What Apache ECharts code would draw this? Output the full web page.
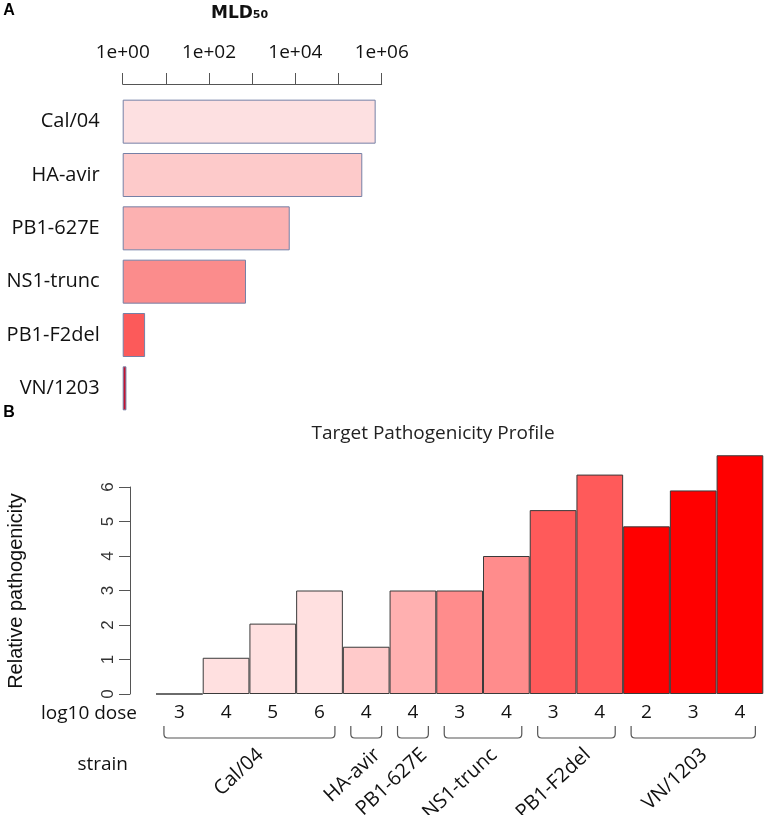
<!DOCTYPE html>
<html>
<head>
<meta charset="utf-8">
<script src="https://cdn.jsdelivr.net/npm/echarts@6/dist/echarts.min.js"></script>
<style>
html,body{margin:0;padding:0;background:#fff;}
#chart{width:767px;height:815px;}
</style>
</head>
<body>
<div id="chart"></div>
<script>
// ---- Panel A data ----
const strains = ['Cal/04', 'HA-avir', 'PB1-627E', 'NS1-trunc', 'PB1-F2del', 'VN/1203'];
const mld50 = [724000, 355000, 7400, 718, 3.3, 1.22];

// ---- Panel B data ----
const barStrains = ['Cal/04', 'Cal/04', 'Cal/04', 'Cal/04', 'HA-avir', 'PB1-627E',
  'NS1-trunc', 'NS1-trunc', 'PB1-F2del', 'PB1-F2del', 'VN/1203', 'VN/1203', 'VN/1203'];
const doses = ['3', '4', '5', '6', '4', '4', '3', '4', '3', '4', '2', '3', '4'];
const pathogenicity = [0, 1.05, 2.04, 3.0, 1.37, 3.0, 3.0, 4.0, 5.33, 6.36, 4.86, 5.9, 6.92];

// ---- styles ----
const paletteTop = ['#fde0e1', '#fdcaca', '#fcb1b1', '#fb8c8c', '#fc5a5a', '#c8102e'];
const paletteBottom = ['#ffe0e0', '#ffcaca', '#ffb0b0', '#ff8c8c', '#ff5a5a', '#ff0000'];

const barCats = barStrains.map((s, i) => s + ' ' + doses[i]);
const groups = strains.map((s, k) => {
  const idx = barStrains.map((b, i) => b === s ? i : -1).filter(i => i >= 0);
  return [idx[0], idx[idx.length - 1], 0, k];
});

const chart = echarts.init(document.getElementById('chart'), null, {renderer: 'canvas'});
const sans = '"Open Sans", "Noto Sans", sans-serif';

const option = {
  animation: false,
  backgroundColor: '#ffffff',
  grid: [
    {left: 122.7, right: 385.3, top: 95, height: 320},
    {left: 156, right: 3.7, top: 487, bottom: 121}
  ],
  xAxis: [
    {
      type: 'log', gridIndex: 0, position: 'top', offset: 11,
      min: 1, max: 1e6, logBase: 10, interval: 1,
      axisLine: {show: true, lineStyle: {color: '#555', width: 1}},
      axisTick: {show: true, inside: false, length: 11, lineStyle: {color: '#555'}},
      splitLine: {show: false},
      axisLabel: {
        show: true, margin: 22, color: '#111', fontFamily: sans, fontSize: 19,
        formatter: function (v) {
          const e = Math.round(Math.log10(v));
          if (e % 2 !== 0) return '';
          return '1e+' + String(e).padStart(2, '0');
        }
      }
    },
    {
      type: 'category', gridIndex: 1, data: barCats,
      axisLine: {show: false}, axisTick: {show: false},
      axisLabel: {
        show: true, interval: 0, margin: 9, color: '#111', fontFamily: sans, fontSize: 19,
        formatter: function (v, i) { return doses[i]; }
      }
    }
  ],
  yAxis: [
    {
      type: 'category', gridIndex: 0, data: strains, inverse: true,
      axisLine: {show: false}, axisTick: {show: false},
      axisLabel: {show: true, margin: 23, color: '#111', fontFamily: sans, fontSize: 20}
    },
    {
      type: 'value', gridIndex: 1, min: 0, max: 6, interval: 1, offset: 26,
      axisLine: {show: true, lineStyle: {color: '#555', width: 1}},
      axisTick: {show: true, length: 11, lineStyle: {color: '#555'}},
      splitLine: {show: false},
      axisLabel: {show: true, rotate: 90, margin: 13, color: '#333',
        fontFamily: '"Liberation Sans", Arial, sans-serif', fontSize: 17}
    }
  ],
  series: [
    {
      type: 'bar', xAxisIndex: 0, yAxisIndex: 0, data: mld50,
      barCategoryGap: '17.5%',
      itemStyle: {
        borderColor: '#7580a6', borderWidth: 1,
        color: function (p) { return paletteTop[p.dataIndex]; }
      }
    },
    {
      type: 'bar', xAxisIndex: 1, yAxisIndex: 1, data: pathogenicity,
      barCategoryGap: '0%', clip: false,
      itemStyle: {
        borderColor: '#3a3a3a', borderWidth: 1,
        color: function (p) { return paletteBottom[strains.indexOf(barStrains[p.dataIndex])]; }
      }
    },
    {
      type: 'custom', xAxisIndex: 1, yAxisIndex: 1, data: groups, clip: false,
      encode: {x: [0, 1], y: 2},
      renderItem: function (params, api) {
        const bw = api.size([1, 0])[0];
        const p0 = api.coord([api.value(0), 0]);
        const p1 = api.coord([api.value(1), 0]);
        const pad = 0.33 * bw;
        const x1 = p0[0] - pad, x2 = p1[0] + pad;
        const yTop = p0[1] + 32, yBot = p0[1] + 44, r = 4;
        const path = 'M' + x1 + ' ' + yTop + ' L' + x1 + ' ' + (yBot - r) +
          ' Q' + x1 + ' ' + yBot + ' ' + (x1 + r) + ' ' + yBot +
          ' L' + (x2 - r) + ' ' + yBot +
          ' Q' + x2 + ' ' + yBot + ' ' + x2 + ' ' + (yBot - r) +
          ' L' + x2 + ' ' + yTop;
        const cx = (x1 + x2) / 2;
        return {
          type: 'group',
          children: [
            {type: 'path', shape: {pathData: path},
              style: {fill: null, stroke: '#555', lineWidth: 1.2}},
            {type: 'text', x: cx + 11, y: yBot + 14, rotation: 43 * Math.PI / 180,
              style: {text: strains[api.value(3)], fill: '#111', font: '20px ' + sans,
                align: 'right', verticalAlign: 'middle'}}
          ]
        };
      }
    }
  ],
  graphic: [
    {type: 'text', x: 9, y: 11, style: {text: 'A', fill: '#000',
      font: 'bold 16px "Liberation Sans", Arial, sans-serif', align: 'center', verticalAlign: 'middle'}},
    {type: 'text', x: 9, y: 413, style: {text: 'B', fill: '#000',
      font: 'bold 16px "Liberation Sans", Arial, sans-serif', align: 'center', verticalAlign: 'middle'}},
    {type: 'text', x: 211, y: 12, style: {text: '{a|MLD}{b|50}', align: 'left', verticalAlign: 'middle',
      rich: {
        a: {font: 'bold 17px "DejaVu Sans", sans-serif', fill: '#111', lineHeight: 20, verticalAlign: 'bottom'},
        b: {font: 'bold 11px "DejaVu Sans", sans-serif', fill: '#111', lineHeight: 20, verticalAlign: 'bottom', padding: [0, 0, 1, 0]}
      }}},
    {type: 'text', x: 433, y: 434, style: {text: 'Target Pathogenicity Profile', fill: '#222',
      font: '19px ' + sans, align: 'center', verticalAlign: 'middle'}},
    {type: 'text', x: 16, y: 591, rotation: Math.PI / 2, style: {text: 'Relative pathogenicity', fill: '#111',
      font: '20px "Liberation Sans", Arial, sans-serif', align: 'center', verticalAlign: 'middle'}},
    {type: 'text', x: 137, y: 714, style: {text: 'log10 dose', fill: '#111',
      font: '19px ' + sans, align: 'right', verticalAlign: 'middle'}},
    {type: 'text', x: 128, y: 765, style: {text: 'strain', fill: '#111',
      font: '19px ' + sans, align: 'right', verticalAlign: 'middle'}}
  ]
};
chart.setOption(option);
</script>
</body>
</html>
